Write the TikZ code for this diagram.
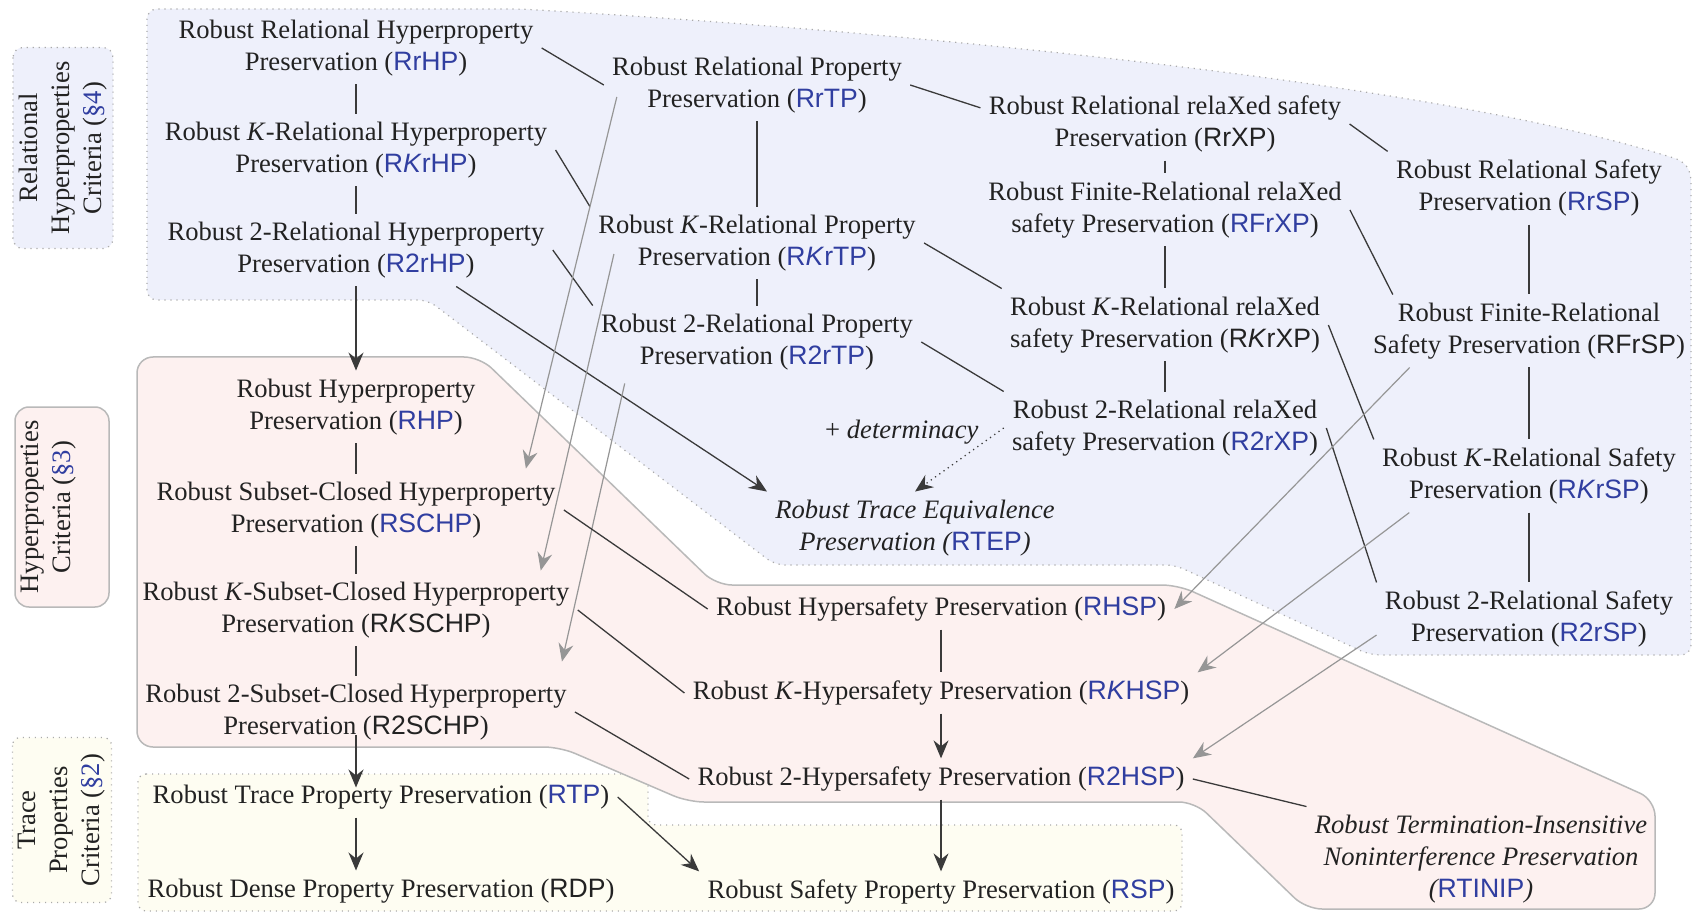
\documentclass[tikz,border=0pt]{standalone}
\usepackage{fontspec}
\setmainfont{Liberation Serif}
\setsansfont{Liberation Sans}
\usetikzlibrary{arrows.meta,calc}

\definecolor{acrblue}{RGB}{48,62,160}
\definecolor{txt}{RGB}{34,34,34}
\definecolor{lnk}{RGB}{58,58,58}
\definecolor{lnkgray}{RGB}{150,150,150}
\definecolor{relfill}{RGB}{238,240,251}
\definecolor{hypfill}{RGB}{253,241,240}
\definecolor{trfill}{RGB}{254,253,242}
\definecolor{dotgray}{RGB}{170,170,170}
\definecolor{edgegray}{RGB}{185,185,185}

% acronyms: blue or plain, always upright sans
\newcommand{\ab}[1]{{\sffamily\upshape\color{acrblue}#1}}
\newcommand{\ak}[1]{{\sffamily\upshape #1}}
\newcommand{\Kit}{\textit{K\/}}

\begin{document}
\begin{tikzpicture}[x=0.5pt,y=-0.5pt,
  every node/.style={font=\fontsize{13.3pt}{16pt}\selectfont, text=txt},
  crit/.style={align=center, inner sep=4pt, yshift=-1pt},
  italcrit/.style={crit, font=\fontsize{13.3pt}{16pt}\selectfont\itshape},
  link/.style={draw=lnk, line width=0.65pt},
  imp/.style={link, -{Stealth[length=9pt,width=7.5pt,inset=3pt]}},
  dotimp/.style={draw=lnk, line width=0.65pt, dash pattern=on 0.6pt off 2pt,
    -{Stealth[length=9pt,width=7.5pt,inset=3pt]}},
  grayimp/.style={draw=lnkgray, line width=0.6pt,
    -{Stealth[length=9pt,width=7.5pt,inset=3pt]}},
  dotborder/.style={draw=dotgray, line width=0.6pt, dash pattern=on 0.6pt off 2.4pt},
  relregion/.style={fill=relfill, dotborder, rounded corners=5pt},
  hypregion/.style={fill=hypfill, draw=edgegray, line width=0.75pt, rounded corners=8pt},
  trregion/.style={fill=trfill, dotborder, rounded corners=4pt},
  sidelabel/.style={rotate=90, align=center, inner sep=0pt},
]
\fill[white] (0,0) rectangle (1696,914);
\useasboundingbox (0,0) rectangle (1696,914);

% ---- background regions ----
\path[relregion] (147,300) -- (147,9) -- (520,9)
  .. controls (850,28) and (1400,76) .. (1664,155)
  .. controls (1690,163) and (1691,175) .. (1691,195)
  -- (1691,655) -- (1370,655) -- (1175,565) -- (775,565) -- (428,300) -- cycle;
\path[trregion] (138,774) -- (648,774) -- (648,825) -- (1182,825)
  -- (1182,911) -- (138,911) -- cycle;
\path[hypregion] (137,357) -- (480,357) -- (716,585) -- (1178,585)
  -- (1655,800) -- (1655,909) -- (1306,909) -- (1195,802) -- (688,802)
  -- (560,747) -- (137,747) -- cycle;

% ---- side labels ----
\node[sidelabel, fill=relfill, dotborder, rounded corners=5pt,
  minimum width=100.5pt, minimum height=50pt] (relcrit) at (63,148)
  {Relational\\Hyperproperties\\Criteria (\textcolor{acrblue}{\S4})};
\node[rotate=90, fill=hypfill, draw=edgegray, line width=0.75pt,
  rounded corners=7pt, minimum width=100pt, minimum height=47pt] (hypbox) at (62,507) {};
\node[sidelabel] (hypcrit) at (49,507)
  {Hyperproperties\\Criteria (\textcolor{acrblue}{\S3})};
\node[sidelabel, fill=trfill, dotborder, rounded corners=4pt,
  minimum width=82.5pt, minimum height=49.5pt] (trcrit) at (62,820)
  {Trace\\Properties\\Criteria (\textcolor{acrblue}{\S2})};

% ---- left column ----
\node[crit] (RrHP) at (356,46) {Robust Relational Hyperproperty\\Preservation (\ab{RrHP})};
\node[crit] (RKrHP) at (356,148) {Robust \Kit-Relational Hyperproperty\\Preservation (\ab{R\textit{K}rHP})};
\node[crit] (R2rHP) at (356,248) {Robust 2-Relational Hyperproperty\\Preservation (\ab{R2rHP})};
\node[crit] (RHP) at (356,405) {Robust Hyperproperty\\Preservation (\ab{RHP})};
\node[crit] (RSCHP) at (356,508) {Robust Subset-Closed Hyperproperty\\Preservation (\ab{RSCHP})};
\node[crit] (RKSCHP) at (356,608) {Robust \Kit-Subset-Closed Hyperproperty\\Preservation (\ak{R\textit{K}SCHP})};
\node[crit] (R2SCHP) at (356,710) {Robust 2-Subset-Closed Hyperproperty\\Preservation (\ak{R2SCHP})};
\node[crit] (RTP) at (381,795) {Robust Trace Property Preservation (\ab{RTP})};
\node[crit] (RDP) at (381,889) {Robust Dense Property Preservation (\ak{RDP})};

% ---- second column ----
\node[crit] (RrTP) at (757,83) {Robust Relational Property\\Preservation (\ab{RrTP})};
\node[crit] (RKrTP) at (757,241) {Robust \Kit-Relational Property\\Preservation (\ab{R\textit{K}rTP})};
\node[crit] (R2rTP) at (757,340) {Robust 2-Relational Property\\Preservation (\ab{R2rTP})};
\node[italcrit] (RTEP) at (915,526) {Robust Trace Equivalence\\Preservation (\ab{RTEP})};
\node[crit] (RHSP) at (941,607) {Robust Hypersafety Preservation (\ab{RHSP})};
\node[crit] (RKHSP) at (941,691) {Robust \Kit-Hypersafety Preservation (\ab{R\textit{K}HSP})};
\node[crit] (R2HSP) at (941,777) {Robust 2-Hypersafety Preservation (\ab{R2HSP})};
\node[crit] (RSP) at (941,890) {Robust Safety Property Preservation (\ab{RSP})};

% ---- third column ----
\node[crit] (RrXP) at (1165,122) {Robust Relational relaXed safety\\Preservation (\ak{RrXP})};
\node[crit] (RFrXP) at (1165,208) {Robust Finite-Relational relaXed\\safety Preservation (\ab{RFrXP})};
\node[crit] (RKrXP) at (1165,323) {Robust \Kit-Relational relaXed\\safety Preservation (\ak{R\textit{K}rXP})};
\node[crit] (R2rXP) at (1165,426) {Robust 2-Relational relaXed\\safety Preservation (\ab{R2rXP})};

% ---- fourth column ----
\node[crit] (RrSP) at (1529,186) {Robust Relational Safety\\Preservation (\ab{RrSP})};
\node[crit] (RFrSP) at (1529,329) {Robust Finite-Relational\\Safety Preservation (\ak{RFrSP})};
\node[crit] (RKrSP) at (1529,474) {Robust \Kit-Relational Safety\\Preservation (\ab{R\textit{K}rSP})};
\node[crit] (R2rSP) at (1529,617) {Robust 2-Relational Safety\\Preservation (\ab{R2rSP})};
\node[italcrit] (RTINIP) at (1481,857) {Robust Termination-Insensitive\\Noninterference Preservation\\(\ab{RTINIP})};

% ---- relational hyperproperties ----
\draw[link] (RrHP) -- (RKrHP);
\draw[link] (RKrHP) -- (R2rHP);
\draw[imp] (R2rHP) -- (RHP);
\draw[link] (RrHP.east) -- (RrTP.west);
\draw[link] (RKrHP.east) -- (RKrTP.north west);
\draw[link] (R2rHP.east) -- (R2rTP.north west);
\draw[imp] (R2rHP.-20) -- (RTEP.north west);

% ---- relational properties ----
\draw[link] (RrTP) -- (RKrTP);
\draw[link] (RKrTP) -- (R2rTP);
\draw[link] (RrTP.east) -- (RrXP.175);
\draw[link] (RKrTP.east) -- (RKrXP.north west);
\draw[link] (R2rTP.east) -- (R2rXP.north west);
\draw[grayimp] ($(RrTP.west)+(13,12)$) -- ($(RSCHP.north east)+(-38,-5)$);
\draw[grayimp] ($(RKrTP.west)+(24,11)$) -- ($(RKSCHP.north east)+(-37,-3)$);
\draw[grayimp] ($(R2rTP.south west)+(32,5)$) -- ($(R2SCHP.north east)+(-13,-14)$);

% ---- relaxed safety ----
\draw[link] (RrXP) -- (RFrXP);
\draw[link] (RFrXP) -- (RKrXP);
\draw[link] (RKrXP) -- (R2rXP);
\draw[link] (RrXP.east) -- (RrSP.north west);
\draw[link] (RFrXP.east) -- (RFrSP.165);
\draw[link] (RKrXP.east) -- (RKrSP.north west);
\draw[link] (R2rXP.east) -- (R2rSP.north west);
\draw[dotimp] (R2rXP.west) --
  node[pos=0, anchor=east, xshift=-9pt, yshift=-2pt] {+ \textit{determinacy}} (RTEP.north);

% ---- relational safety ----
\draw[link] (RrSP) -- (RFrSP);
\draw[link] (RFrSP) -- (RKrSP);
\draw[link] (RKrSP) -- (R2rSP);
\draw[grayimp] (RFrSP.197) -- (RHSP.east);
\draw[grayimp] (RKrSP.197) -- (RKHSP.north east);
\draw[grayimp] (R2rSP.186) -- (R2HSP.north east);

% ---- hyperproperties ----
\draw[link] (RHP) -- (RSCHP);
\draw[link] (RSCHP) -- (RKSCHP);
\draw[link] (RKSCHP) -- (R2SCHP);
\draw[link] (RSCHP.east) -- (RHSP.west);
\draw[link] (RKSCHP.east) -- (RKHSP.west);
\draw[link] (R2SCHP.east) -- (R2HSP.west);
\draw[link] (RHSP) -- (RKHSP);
\draw[imp] (RKHSP) -- (R2HSP);
\draw[link] (R2HSP.east) -- (RTINIP.north west);

% ---- trace properties ----
\draw[imp, shorten <=-6.5pt, shorten >=-5.5pt] (R2SCHP.south) -- (R2SCHP.south |- RTP.north);
\draw[imp] (RTP.south -| R2SCHP.south) -- (RDP.north -| R2SCHP.south);
\draw[imp] (RTP.east) -- (RSP.north west);
\draw[imp] (R2HSP) -- (RSP);
\end{tikzpicture}
\end{document}
